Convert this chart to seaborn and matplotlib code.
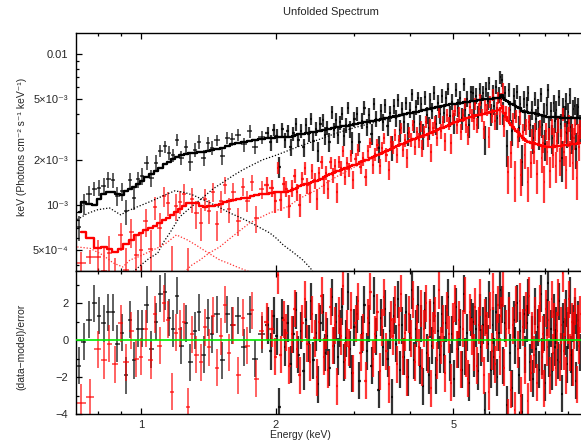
import numpy as np
import matplotlib
matplotlib.use("Agg")
import matplotlib.pyplot as plt
from matplotlib.ticker import FixedLocator, FixedFormatter, NullFormatter
import seaborn as sns

UNIT = 1e-3  # model / component values are listed in units of 1e-3

# ---------------- instrument 1 (black) ----------------
e_black = [
    0.725, 0.745, 0.765, 0.785, 0.805, 0.825, 0.845, 0.865, 0.885, 0.905,
    0.925, 0.945, 0.965, 0.985, 1.005, 1.03, 1.055, 1.08, 1.105, 1.13,
    1.155, 1.18, 1.205, 1.23, 1.26, 1.29, 1.32, 1.35, 1.38, 1.41,
    1.44, 1.48, 1.52, 1.56, 1.60, 1.65, 1.70, 1.75, 1.80, 1.86,
    1.92, 1.95, 1.98, 2.01, 2.04, 2.07, 2.10, 2.13, 2.16, 2.19,
    2.22, 2.25, 2.28, 2.31, 2.34, 2.37, 2.40, 2.43, 2.46, 2.49,
    2.52, 2.55, 2.58, 2.61, 2.64, 2.67, 2.70, 2.73, 2.76, 2.79,
    2.82, 2.85, 2.88, 2.91, 2.94, 2.97,
    3.00, 3.04, 3.08, 3.12, 3.16, 3.20, 3.24, 3.28, 3.32, 3.36,
    3.40, 3.44, 3.48, 3.52, 3.56, 3.60, 3.64, 3.68, 3.72, 3.76,
    3.80, 3.84, 3.88, 3.92, 3.96, 4.00, 4.04, 4.08, 4.12, 4.16,
    4.20, 4.24, 4.28, 4.32, 4.36, 4.40, 4.44, 4.48,
    4.52, 4.57, 4.62, 4.67, 4.72, 4.77, 4.82, 4.87, 4.92, 4.97,
    5.02, 5.07, 5.12, 5.17, 5.22, 5.27, 5.32, 5.37, 5.42, 5.47,
    5.52, 5.57, 5.62, 5.67, 5.72, 5.77, 5.82, 5.87, 5.92, 5.97,
    6.02, 6.07, 6.12, 6.17, 6.22, 6.27, 6.32, 6.37, 6.42, 6.47,
    6.52, 6.58, 6.64, 6.70, 6.76, 6.82, 6.88, 6.94, 7.00, 7.06,
    7.12, 7.18, 7.24, 7.30, 7.36, 7.42, 7.48, 7.54, 7.60, 7.66,
    7.72, 7.78, 7.84, 7.90, 7.96, 8.02, 8.08, 8.14, 8.20, 8.26,
    8.32, 8.38, 8.44, 8.50, 8.56, 8.62, 8.68, 8.74, 8.80, 8.86,
    8.92, 8.98, 9.04, 9.10, 9.16, 9.22, 9.28, 9.34, 9.40, 9.46,
    9.52, 9.58,
]
model_black = [
    0.90, 1.04, 1.02, 1.00, 1.09, 1.19, 1.21, 1.22, 1.18, 1.16,
    1.24, 1.28, 1.32, 1.37, 1.44, 1.53, 1.60, 1.69, 1.76, 1.86,
    1.93, 2.01, 2.09, 2.13, 2.19, 2.22, 2.20, 2.23, 2.25, 2.27,
    2.31, 2.36, 2.40, 2.45, 2.52, 2.58, 2.62, 2.67, 2.70, 2.74,
    2.77, 2.78, 2.79, 2.80, 2.80, 2.81, 2.82, 2.83, 2.84, 2.88,
    2.91, 2.93, 2.95, 2.97, 2.99, 3.00, 3.02, 3.04, 3.06, 3.08,
    3.10, 3.12, 3.15, 3.17, 3.20, 3.22, 3.24, 3.26, 3.28, 3.30,
    3.31, 3.33, 3.35, 3.36, 3.38, 3.40,
    3.42, 3.44, 3.47, 3.50, 3.53, 3.55, 3.57, 3.60, 3.62, 3.64,
    3.67, 3.69, 3.72, 3.74, 3.77, 3.80, 3.83, 3.86, 3.88, 3.91,
    3.94, 3.97, 4.00, 4.02, 4.04, 4.06, 4.08, 4.11, 4.13, 4.16,
    4.19, 4.22, 4.25, 4.27, 4.29, 4.32, 4.35, 4.38,
    4.40, 4.43, 4.46, 4.49, 4.52, 4.55, 4.58, 4.60, 4.63, 4.65,
    4.67, 4.70, 4.72, 4.74, 4.76, 4.78, 4.80, 4.82, 4.84, 4.86,
    4.88, 4.90, 4.92, 4.94, 4.96, 4.98, 5.00, 5.02, 5.03, 5.04,
    5.05, 5.06, 5.07, 5.08, 5.09, 5.11, 5.14, 5.22, 5.38, 5.10,
    4.95, 4.85, 4.78, 4.70, 4.64, 4.59, 4.52, 4.47, 4.42, 4.38,
    4.22, 4.16, 4.13, 4.10, 4.09, 4.08, 4.07, 4.06, 4.05, 4.02,
    3.99, 3.96, 3.93, 3.91, 3.89, 3.87, 3.85, 3.84, 3.83, 3.82,
    3.82, 3.81, 3.81, 3.80, 3.80, 3.80, 3.79, 3.79, 3.79, 3.79,
    3.78, 3.78, 3.78, 3.78, 3.78, 3.77, 3.77, 3.77, 3.77, 3.77,
    3.77, 3.77,
]
resid_black = [
    -1.4, -0.1, 1.1, 2.0, 1.3, 0.9, 1.5, 1.5, -0.2, 0.4,
    -1.9, 1.1, -1.1, 0.6, 0.6, 1.9, -0.5, 1.0, 2.5, 2.6,
    1.2, 0.6, 2.4, -0.3, 0.9, -1.2, 0.5, 1.5, -0.8, 1.2,
    0.3, 1.4, -1.1, 1.4, 0.8, 1.3, -0.4, 1.4, -1.0, 0.3,
    0.8, -0.6, 1.3, 0.2, -3.6, 1.2, -0.4, 0.9, -1.3, 0.3,
    1.6, -0.8, 0.5, -1.7, 1.1, -0.2, 2.1, -1.1, 0.4, -2.4,
    0.9, 1.5, -0.7, 0.2, -1.5, 2.3, -0.3, 1.0, -0.9, 0.6,
    1.8, -1.2, 0.1, 2.6, -0.5, -1.8,
    0.7, 1.4, -2.2, 0.3, 1.9, -0.6, 0.9, -1.4, 2.4, 0.2,
    -2.7, 1.2, -0.4, 1.7, -1.0, 0.5, -3.1, 1.3, -0.2, 2.2,
    -1.6, 0.8, -0.9, 1.5, -2.0, 0.4, 2.7, -1.1, 0.6, 1.9,
    -1.4, 0.9, -2.5, 1.6, -0.7, -1.9, 1.1, -0.3,
    2.0, -1.9, 0.5, -0.8, 1.4, -0.8, 0.9, 2.3, -1.2, 0.3,
    -2.1, 1.8, -0.5, 0.7, -1.6, 2.5, -0.9, 0.4, -2.3, 1.2,
    1.0, -1.0, 0.6, -1.7, 1.5, -0.4, 0.8, -3.8, 1.3, -0.2,
    2.2, -1.6, 0.8, -0.9, 1.5, -2.0, 0.4, 2.7, 1.9, -1.4,
    0.9, -3.5, 1.6, -0.7, -2.6, 1.1, -0.3, 2.0, -1.9, 0.5,
    -3.9, 1.4, -0.8, 0.9, 2.3, -1.2, 0.3, -2.1, 1.8, -0.5,
    0.7, -1.6, 2.5, -0.9, 0.4, -2.3, 1.2, 3.1, -1.0, 0.6,
    -1.7, 1.5, -0.4, 0.8, -1.1, 2.1, -0.6, -2.9, 1.0, 0.2,
    1.7, -1.3, 0.5, 2.4, -0.8, -1.5, 0.9, 1.3, -2.2, 0.4,
    1.1, -0.7,
]
relerr_black = [
    0.15, 0.16, 0.15, 0.14, 0.15, 0.14, 0.15, 0.13, 0.14, 0.15,
    0.14, 0.13, 0.14, 0.13, 0.14, 0.13, 0.12, 0.13, 0.12, 0.12,
    0.12, 0.11, 0.12, 0.11, 0.12, 0.11, 0.11, 0.12, 0.11, 0.11,
    0.11, 0.10, 0.11, 0.10, 0.11, 0.10, 0.10, 0.11, 0.10, 0.10,
    0.10, 0.11, 0.10, 0.11, 0.10, 0.11, 0.11, 0.10, 0.11, 0.11,
    0.11, 0.10, 0.11, 0.11, 0.12, 0.11, 0.11, 0.12, 0.11, 0.11,
    0.12, 0.11, 0.12, 0.11, 0.12, 0.12, 0.11, 0.12, 0.12, 0.11,
    0.12, 0.12, 0.11, 0.12, 0.12, 0.13,
    0.12, 0.12, 0.11, 0.12, 0.13, 0.12, 0.12, 0.13, 0.12, 0.12,
    0.13, 0.12, 0.12, 0.13, 0.12, 0.13, 0.12, 0.13, 0.13, 0.12,
    0.13, 0.12, 0.13, 0.12, 0.13, 0.13, 0.12, 0.13, 0.13, 0.12,
    0.13, 0.12, 0.13, 0.13, 0.12, 0.13, 0.13, 0.12,
    0.13, 0.12, 0.13, 0.13, 0.12, 0.13, 0.13, 0.12, 0.13, 0.13,
    0.12, 0.13, 0.13, 0.12, 0.13, 0.13, 0.12, 0.13, 0.13, 0.12,
    0.13, 0.12, 0.13, 0.13, 0.12, 0.13, 0.13, 0.12, 0.13, 0.13,
    0.12, 0.13, 0.13, 0.12, 0.13, 0.13, 0.12, 0.13, 0.13, 0.14,
    0.13, 0.14, 0.13, 0.14, 0.13, 0.14, 0.14, 0.13, 0.14, 0.14,
    0.14, 0.15, 0.14, 0.14, 0.15, 0.14, 0.15, 0.15, 0.14, 0.15,
    0.15, 0.16, 0.15, 0.15, 0.16, 0.15, 0.16, 0.16, 0.15, 0.16,
    0.16, 0.16, 0.15, 0.16, 0.16, 0.17, 0.16, 0.16, 0.17, 0.16,
    0.17, 0.16, 0.17, 0.17, 0.16, 0.17, 0.17, 0.16, 0.17, 0.17,
    0.17, 0.18,
]
# additive model components (black, dotted)
soft_black_e = [0.72, 0.76, 0.80, 0.85, 0.90, 0.94, 0.98, 1.03, 1.07, 1.12,
                1.19, 1.25, 1.31, 1.37, 1.43, 1.50, 1.58, 1.66, 1.75, 1.84,
                1.94, 2.01, 2.08, 2.18, 2.30, 2.39, 2.46]
soft_black_v = [0.80, 0.88, 0.93, 0.955, 0.86, 0.92, 0.97, 1.03, 1.08, 1.15,
                1.24, 1.21, 1.16, 1.09, 1.03, 0.96, 0.885, 0.83, 0.77, 0.71,
                0.653, 0.60, 0.543, 0.49, 0.432, 0.383, 0.34]
hard_black_e = [0.96, 1.00, 1.04, 1.09, 1.12, 1.16, 1.22, 1.30, 1.38, 1.45,
                1.53, 1.61, 1.69, 1.78, 1.87, 2.01, 2.14, 2.27, 2.48, 2.70,
                3.0, 3.4, 3.8, 4.3, 5.0, 5.6, 6.0, 6.35, 6.6, 7.0,
                7.5, 8.2, 9.0, 9.7]
hard_black_v = [0.36, 0.40, 0.44, 0.48, 0.56, 0.653, 0.833, 0.98, 1.13, 1.28,
                1.42, 1.57, 1.71, 1.85, 1.99, 2.14, 2.30, 2.46, 2.69, 2.95,
                3.25, 3.58, 3.88, 4.22, 4.65, 4.90, 5.03, 5.08, 4.85, 4.42,
                4.06, 3.82, 3.77, 3.76]

# ---------------- instrument 2 (red) ----------------
e_red = [
    0.735, 0.77, 0.80, 0.825, 0.85, 0.875, 0.90, 0.925, 0.95, 0.975,
    1.00, 1.025, 1.05, 1.075, 1.10, 1.125, 1.15, 1.175, 1.20, 1.225,
    1.25, 1.275, 1.30, 1.33, 1.36, 1.39, 1.42, 1.45, 1.48, 1.51,
    1.54, 1.57, 1.61, 1.65, 1.69, 1.73, 1.77, 1.81, 1.86, 1.91,
    1.965, 1.995, 2.025, 2.055, 2.085, 2.115, 2.145, 2.175, 2.205, 2.235,
    2.265, 2.295, 2.325, 2.355, 2.385, 2.415, 2.445, 2.475, 2.505, 2.535,
    2.565, 2.595, 2.625, 2.655, 2.685, 2.715, 2.745, 2.775, 2.805, 2.835,
    2.865, 2.895, 2.925, 2.955, 2.985,
    3.02, 3.06, 3.10, 3.14, 3.18, 3.22, 3.26, 3.30, 3.34, 3.38,
    3.42, 3.46, 3.50, 3.54, 3.58, 3.62, 3.66, 3.70, 3.74, 3.78,
    3.82, 3.86, 3.90, 3.94, 3.98, 4.02, 4.06, 4.10, 4.14, 4.18,
    4.22, 4.26, 4.30, 4.34, 4.38, 4.42, 4.46, 4.50,
    4.545, 4.595, 4.645, 4.695, 4.745, 4.795, 4.845, 4.895, 4.945, 4.995,
    5.045, 5.095, 5.145, 5.195, 5.245, 5.295, 5.345, 5.395, 5.445, 5.495,
    5.545, 5.595, 5.645, 5.695, 5.745, 5.795, 5.845, 5.895, 5.945, 5.995,
    6.045, 6.095, 6.145, 6.195, 6.245, 6.295, 6.345, 6.395, 6.445, 6.495,
    6.55, 6.61, 6.67, 6.73, 6.79, 6.85, 6.91, 6.97, 7.03, 7.09,
    7.15, 7.21, 7.27, 7.33, 7.39, 7.45, 7.51, 7.57, 7.63, 7.69,
    7.75, 7.81, 7.87, 7.93, 7.99, 8.05, 8.11, 8.17, 8.23, 8.29,
    8.35, 8.41, 8.47, 8.53, 8.59, 8.65, 8.71, 8.77, 8.83, 8.89,
    8.95, 9.01, 9.07, 9.13, 9.19, 9.25, 9.31, 9.37, 9.43, 9.49,
    9.55, 9.61,
]
model_red = [
    0.66, 0.60, 0.52, 0.53, 0.51, 0.49, 0.51, 0.55, 0.59, 0.63,
    0.65, 0.68, 0.70, 0.73, 0.76, 0.79, 0.82, 0.86, 0.90, 0.94,
    0.99, 1.03, 1.03, 1.03, 0.99, 0.97, 0.98, 0.99, 1.00, 1.02,
    1.04, 1.06, 1.08, 1.10, 1.11, 1.12, 1.14, 1.16, 1.18, 1.19,
    1.20, 1.21, 1.21, 1.21, 1.21, 1.22, 1.23, 1.25, 1.28, 1.30,
    1.33, 1.35, 1.37, 1.38, 1.40, 1.42, 1.44, 1.45, 1.47, 1.49,
    1.52, 1.55, 1.58, 1.60, 1.63, 1.65, 1.67, 1.69, 1.71, 1.73,
    1.75, 1.77, 1.79, 1.81, 1.83,
    1.85, 1.88, 1.92, 1.95, 1.97, 2.00, 2.04, 2.07, 2.11, 2.15,
    2.18, 2.21, 2.25, 2.28, 2.32, 2.35, 2.38, 2.42, 2.45, 2.48,
    2.52, 2.55, 2.59, 2.62, 2.65, 2.68, 2.72, 2.75, 2.78, 2.80,
    2.83, 2.86, 2.89, 2.92, 2.95, 2.98, 3.01, 3.05,
    3.08, 3.12, 3.17, 3.21, 3.25, 3.30, 3.34, 3.38, 3.43, 3.48,
    3.52, 3.56, 3.61, 3.65, 3.68, 3.72, 3.75, 3.78, 3.81, 3.84,
    3.87, 3.90, 3.92, 3.95, 3.97, 4.00, 4.02, 4.05, 4.07, 4.09,
    4.12, 4.14, 4.17, 4.19, 4.22, 4.24, 4.28, 4.40, 4.55, 4.05,
    3.80, 3.62, 3.48, 3.38, 3.28, 3.20, 3.11, 3.02, 2.95, 2.88,
    2.77, 2.72, 2.67, 2.63, 2.61, 2.59, 2.57, 2.56, 2.55, 2.52,
    2.50, 2.48, 2.47, 2.45, 2.44, 2.43, 2.42, 2.42, 2.42, 2.42,
    2.43, 2.43, 2.44, 2.45, 2.45, 2.47, 2.47, 2.48, 2.49, 2.49,
    2.50, 2.51, 2.51, 2.52, 2.53, 2.53, 2.54, 2.55, 2.55, 2.56,
    2.57, 2.57,
]
resid_red = [
    -3.4, -3.1, -0.5, -1.1, -0.2, -1.3, 0.9, -1.2, 0.5, -1.0,
    -0.9, 0.6, -1.1, 1.4, -0.3, 2.0, 1.1, -2.8, 0.4, 0.6,
    1.0, -3.6, 0.3, -0.8, -1.2, 0.7, -0.4, 1.3, -1.5, 0.2,
    1.9, -0.7, 0.8, -1.9, 1.2, -0.3, 1.6, -2.1, 0.5, 1.0,
    0.6, -0.9, 3.5, -0.8, 1.1, 0.4, -1.4, 0.3, 1.7, -0.5,
    -1.9, 0.9, 2.2, -0.2, -1.2, 1.4, 0.1, -2.0, 1.0, 2.4,
    -0.9, 0.5, -1.6, 1.8, -0.3, 0.8, -2.5, 1.3, 0.2, 2.9,
    -1.1, 0.6, -0.4, 1.6, -1.8,
    0.9, 2.1, -0.7, 0.4, -2.2, 1.2, 2.6, -1.0, 0.3, 1.5,
    -1.7, 0.7, 2.3, -0.6, -2.4, 1.1, 0.2, 1.9, -1.3, 0.8,
    2.5, -0.9, 0.4, -2.0, 1.4, 0.1, 2.2, -1.2, 0.9, -0.4,
    1.7, -1.5, 0.6, 2.0, -0.8, 1.2, -2.6, 0.5,
    1.3, -1.1, 2.7, -0.3, 0.9, -1.8, 1.6, 0.3, -2.3, 1.0,
    2.0, -0.5, 1.1, -1.6, 0.6, 2.4, -1.0, -2.1, 1.5, 0.2,
    -0.7, 1.8, -1.4, 0.8, 2.3, -0.2, -1.9, 1.2, 0.5, -2.8,
    1.6, -0.6, 2.6, -1.3, 0.4, 1.9, -0.9, 1.3, 2.8, -1.5,
    0.6, -4.2, 1.3, -2.7, 0.8, -3.8, 1.9, -0.5, 2.1, -3.0,
    0.7, -1.4, 1.6, -3.3, 2.4, -1.8, 0.5, -0.8, 1.3, -2.3,
    0.9, 2.0, -1.1, 0.3, -2.6, 1.7, -0.4, 1.1, -1.9, 2.2,
    -0.7, 1.0, -1.5, 0.5, 2.3, -1.2, 0.8, 3.6, -0.6, 1.2,
    -1.9, 0.8, 2.2, -0.7, 1.0, -1.5, 0.5, 1.8, -2.4, 0.9,
    -0.3, 1.4,
]
relerr_red = [
    0.11, 0.08, 0.26, 0.28, 0.27, 0.29, 0.26, 0.27, 0.25, 0.26,
    0.25, 0.24, 0.25, 0.23, 0.24, 0.22, 0.23, 0.21, 0.22, 0.20,
    0.20, 0.19, 0.20, 0.18, 0.19, 0.18, 0.17, 0.18, 0.17, 0.17,
    0.16, 0.17, 0.16, 0.15, 0.16, 0.15, 0.15, 0.14, 0.15, 0.14,
    0.14, 0.14, 0.13, 0.14, 0.13, 0.13, 0.14, 0.13, 0.13, 0.12,
    0.13, 0.12, 0.13, 0.12, 0.12, 0.13, 0.12, 0.12, 0.11, 0.12,
    0.12, 0.11, 0.12, 0.11, 0.11, 0.12, 0.11, 0.11, 0.12, 0.11,
    0.11, 0.11, 0.10, 0.11, 0.11,
    0.10, 0.11, 0.10, 0.11, 0.10, 0.11, 0.10, 0.11, 0.10, 0.11,
    0.10, 0.11, 0.10, 0.10, 0.11, 0.10, 0.10, 0.11, 0.10, 0.10,
    0.11, 0.10, 0.10, 0.11, 0.10, 0.10, 0.11, 0.10, 0.10, 0.11,
    0.10, 0.11, 0.10, 0.11, 0.10, 0.11, 0.10, 0.11,
    0.11, 0.10, 0.11, 0.11, 0.10, 0.11, 0.11, 0.10, 0.11, 0.11,
    0.10, 0.11, 0.11, 0.10, 0.11, 0.11, 0.10, 0.11, 0.11, 0.10,
    0.11, 0.11, 0.10, 0.11, 0.11, 0.10, 0.11, 0.11, 0.10, 0.11,
    0.11, 0.10, 0.11, 0.11, 0.10, 0.11, 0.11, 0.11, 0.11, 0.12,
    0.12, 0.13, 0.12, 0.13, 0.13, 0.14, 0.13, 0.14, 0.14, 0.15,
    0.14, 0.15, 0.15, 0.14, 0.15, 0.15, 0.16, 0.15, 0.16, 0.16,
    0.15, 0.16, 0.16, 0.15, 0.16, 0.16, 0.17, 0.16, 0.16, 0.17,
    0.16, 0.17, 0.17, 0.16, 0.17, 0.17, 0.16, 0.17, 0.17, 0.18,
    0.17, 0.17, 0.18, 0.17, 0.18, 0.17, 0.18, 0.18, 0.17, 0.18,
    0.18, 0.18,
]
soft_red_e = [0.72, 0.77, 0.82, 0.866, 0.91, 0.945, 0.99, 1.03, 1.09, 1.14,
              1.20, 1.27, 1.33, 1.38, 1.44, 1.50, 1.57, 1.64, 1.75, 1.85]
soft_red_v = [0.527, 0.515, 0.467, 0.413, 0.388, 0.432, 0.455, 0.481, 0.52, 0.56,
              0.633, 0.586, 0.54, 0.503, 0.465, 0.432, 0.41, 0.388, 0.36, 0.33]
hard_red_e = [1.25, 1.30, 1.355, 1.42, 1.50, 1.57, 1.64, 1.70, 1.75, 1.84,
              1.94, 2.03, 2.12, 2.21, 2.30, 2.39, 2.48, 2.60, 2.75, 3.0,
              3.3, 3.6, 4.0, 4.5, 5.0, 5.5, 6.0, 6.36, 6.6, 7.0,
              7.5, 8.2, 9.0, 9.7]
hard_red_v = [0.36, 0.40, 0.432, 0.48, 0.527, 0.59, 0.653, 0.71, 0.76, 0.82,
              0.885, 0.93, 0.97, 1.05, 1.13, 1.20, 1.26, 1.40, 1.55, 1.78,
              2.05, 2.30, 2.64, 3.01, 3.45, 3.84, 4.08, 4.25, 3.68, 2.98,
              2.56, 2.41, 2.49, 2.56]

x_major = [1, 2, 5]
x_minor = [0.8, 0.9, 3, 4, 6, 7, 8, 9]
y_major = [5e-4, 1e-3, 2e-3, 5e-3, 1e-2]
y_major_labels = ["5×10⁻⁴", "10⁻³", "2×10⁻³", "5×10⁻³", "0.01"]
y_minor = [4e-4, 6e-4, 7e-4, 8e-4, 9e-4, 3e-3, 4e-3, 6e-3, 7e-3, 8e-3, 9e-3]
r_major = [-4, -2, 0, 2]
r_minor = [-3, -1, 1, 3]

for arrs in [(e_black, model_black, resid_black, relerr_black),
             (e_red, model_red, resid_red, relerr_red)]:
    assert len({len(a) for a in arrs}) == 1, [len(a) for a in arrs]

sns.set_theme(style="ticks")
plt.rcParams["font.family"] = ["Liberation Sans", "DejaVu Sans"]
plt.rcParams["axes.unicode_minus"] = True


def half_widths(e):
    e = np.asarray(e, float)
    mid = (e[1:] + e[:-1]) / 2
    lo = np.concatenate([[2 * e[0] - mid[0]], mid])
    hi = np.concatenate([mid, [2 * e[-1] - mid[-1]]])
    return e - lo, hi - e


W_PX, H_PX = 581, 443
fig = plt.figure(figsize=(W_PX / 100, H_PX / 100), dpi=100)
left, right = 76, 588
ax_top = fig.add_axes([left / W_PX, (H_PX - 271) / H_PX, (right - left) / W_PX, (271 - 33) / H_PX])
ax_res = fig.add_axes([left / W_PX, (H_PX - 414) / H_PX, (right - left) / W_PX, (414 - 271) / H_PX])

SPLIT_KEV = 1.9  # wide, sparse bins below; narrow, crowded bins above
datasets = [
    (e_black, model_black, resid_black, relerr_black, "#000000", 0.8),
    (e_red, model_red, resid_red, relerr_red, "#ff0000", 0.78),
]
for e, m, r, rel, col, a in datasets:
    e = np.asarray(e, float)
    m = np.asarray(m, float) * UNIT
    r = np.asarray(r, float)
    err = m * np.asarray(rel, float)
    flux = m + r * err
    xl, xh = half_widths(e)
    for sel, lw in [(e < SPLIT_KEV, 1.1), (e >= SPLIT_KEV, 1.6)]:
        ax_top.errorbar(e[sel], flux[sel], yerr=err[sel], xerr=[xl[sel], xh[sel]],
                        fmt="none", ecolor=col, elinewidth=lw, alpha=a,
                        capsize=0, zorder=2)
        ax_res.errorbar(e[sel], r[sel], yerr=1.0, xerr=[xl[sel], xh[sel]],
                        fmt="none", ecolor=col, elinewidth=lw, alpha=a,
                        capsize=0, zorder=2)
    sns.lineplot(x=e, y=m, ax=ax_top, color=col, lw=1.7, drawstyle="steps-mid",
                 errorbar=None, zorder=4)

for ce, cv, col in [(soft_black_e, soft_black_v, "#000000"),
                    (hard_black_e, hard_black_v, "#000000"),
                    (soft_red_e, soft_red_v, "#ff3030"),
                    (hard_red_e, hard_red_v, "#ff3030")]:
    sns.lineplot(x=ce, y=np.asarray(cv) * UNIT, ax=ax_top, color=col, lw=0.9,
                 linestyle=(0, (1, 1.5)), errorbar=None, zorder=3)

ax_res.axhline(0, color="#00ee00", lw=1.2, zorder=6)

for ax in (ax_top, ax_res):
    ax.set_xscale("log")
    ax.set_xlim(0.7153, 10.0)
    ax.xaxis.set_major_locator(FixedLocator(x_major))
    ax.xaxis.set_minor_locator(FixedLocator(x_minor))
    ax.xaxis.set_minor_formatter(NullFormatter())
    ax.tick_params(which="both", direction="in", top=True, right=True,
                   color="black", width=0.9, labelsize=8, pad=4)
    ax.tick_params(which="major", length=4.5)
    ax.tick_params(which="minor", length=2.5)
    for sp in ax.spines.values():
        sp.set_linewidth(1.0)
        sp.set_color("black")
    ax.set_facecolor("white")

ax_top.set_yscale("log")
ax_top.set_ylim(3.65e-4, 1.378e-2)
ax_top.yaxis.set_major_locator(FixedLocator(y_major))
ax_top.yaxis.set_major_formatter(FixedFormatter(y_major_labels))
ax_top.yaxis.set_minor_locator(FixedLocator(y_minor))
ax_top.yaxis.set_minor_formatter(NullFormatter())
ax_top.tick_params(axis="x", labelbottom=False)
ax_top.tick_params(axis="y", pad=5.5)
ax_top.set_xlabel("")
ax_top.set_ylabel("keV (Photons cm⁻² s⁻¹ keV⁻¹)", fontsize=7.5)
ax_top.yaxis.set_label_coords(-0.096, 0.52)

ax_res.set_ylim(-4, 3.73)
ax_res.yaxis.set_major_locator(FixedLocator(r_major))
ax_res.yaxis.set_minor_locator(FixedLocator(r_minor))
ax_res.xaxis.set_major_formatter(FixedFormatter([str(v) for v in x_major]))
ax_res.tick_params(axis="y", pad=5.5)
ax_res.set_ylabel("(data−model)/error", fontsize=7.5)
ax_res.yaxis.set_label_coords(-0.096, 0.47)
ax_res.set_xlabel("Energy (keV)", fontsize=7.5)
ax_res.xaxis.set_label_coords((300 - left) / (right - left), -0.115)

fig.text(331 / W_PX, 1 - 12 / H_PX, "Unfolded Spectrum", ha="center", va="center", fontsize=8)

fig.savefig("out.png", dpi=100)
